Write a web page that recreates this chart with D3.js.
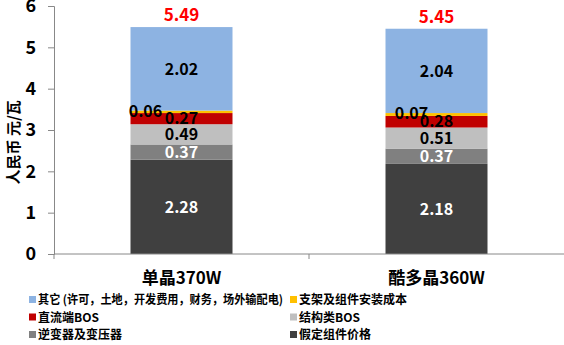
<!DOCTYPE html>
<html>
<head>
<meta charset="utf-8">
<script src="https://cdn.jsdelivr.net/npm/d3@7"></script>
<style>
  body { margin: 0; background: #fff; }
  text { font-family: "Noto Sans CJK SC", "Noto Sans", sans-serif; font-weight: bold; }
</style>
</head>
<body>
<div class="chart"></div>
<script>
var categories = ["单晶370W", "酷多晶360W"];
var seriesNames = ["假定组件价格", "逆变器及变压器", "结构类BOS", "直流端BOS", "支架及组件安装成本", "其它 (许可，土地，开发费用，财务，场外输配电)"];
var seriesColors = ["#404040", "#808080", "#bfbfbf", "#c00000", "#ffc000", "#8db3e2"];
var labelColors = ["#fff", "#fff", "#000", "#000", "#000", "#000"];
var mono = [2.28, 0.37, 0.49, 0.27, 0.06, 2.02];
var poly = [2.18, 0.37, 0.51, 0.28, 0.07, 2.04];
var totals = [5.49, 5.45];
var yTicks = [0, 1, 2, 3, 4, 5, 6];
var legendOrder = [5, 4, 3, 2, 1, 0];

var values = [mono, poly];
var margin = { top: 6, right: 0, bottom: 91, left: 54 };
var svgW = 564, svgH = 345;
var w = svgW - margin.left - margin.right;
var h = svgH - margin.top - margin.bottom;

// the thin gold segment's label is pushed left in the original
var thinShift = [-36, -25];

var svg = d3.select(".chart").append("svg")
    .attr("width", svgW).attr("height", svgH)
    .append("g")
    .attr("transform", "translate(" + margin.left + "," + margin.top + ")");

var xS = d3.scaleBand().domain(categories).range([0, w]).paddingInner(0.6).paddingOuter(0.3);
var yS = d3.scaleLinear().domain([0, 6]).range([h, 0]);

// stacked segments
var rows = categories.map(function(c, i) {
    var r = { cat: c };
    seriesNames.forEach(function(s, j) { r[s] = values[i][j]; });
    return r;
});
var stacked = d3.stack().keys(seriesNames)(rows);

var barsG = svg.append("g");
var labelsG = svg.append("g");

stacked.forEach(function(layer, j) {
    barsG.append("g").selectAll("rect")
        .data(layer)
        .enter().append("rect")
        .attr("x", function(d) { return xS(d.data.cat); })
        .attr("width", xS.bandwidth())
        .attr("y", function(d) { return yS(d[1]); })
        .attr("height", function(d) { return yS(d[0]) - yS(d[1]); })
        .attr("fill", seriesColors[j]);

    labelsG.append("g").selectAll("text")
        .data(layer)
        .enter().append("text")
        .attr("x", function(d, i) { return xS(d.data.cat) + xS.bandwidth() / 2 + (j === 4 ? thinShift[i] : 0); })
        .attr("y", function(d) { return yS((d[0] + d[1]) / 2) + (j === 4 ? -1 : 0); })
        .attr("dy", "0.36em")
        .attr("text-anchor", "middle")
        .style("font-size", "16px")
        .style("fill", labelColors[j])
        .text(function(d) { return (d[1] - d[0]).toFixed(2); });
});

// totals
svg.append("g").selectAll("text")
    .data(categories)
    .enter().append("text")
    .attr("x", function(c) { return xS(c) + xS.bandwidth() / 2; })
    .attr("y", function(c, i) { return yS(totals[i]) - 6; })
    .attr("text-anchor", "middle")
    .style("font-size", "17px")
    .style("fill", "#ff0000")
    .text(function(c, i) { return totals[i].toFixed(2); });

// axes
var lAxis = d3.axisLeft(yS).tickValues(yTicks).tickFormat(d3.format("d")).tickSize(6).tickPadding(12);
var gy = svg.append("g").call(lAxis);
gy.select(".domain").attr("stroke", "#888");
gy.selectAll(".tick line").attr("stroke", "#888");
gy.selectAll(".tick text").style("font-size", "18px").style("font-family", "'Noto Sans CJK SC'").style("font-weight", "bold").attr("fill", "#000");

var gx = svg.append("g").attr("transform", "translate(0," + h + ")");
gx.append("line").attr("x1", 0).attr("x2", w).attr("stroke", "#888");
gx.selectAll(".bnd")
    .data([0, w / 2])
    .enter().append("line")
    .attr("x1", function(d) { return d; }).attr("x2", function(d) { return d; })
    .attr("y1", 0).attr("y2", 5).attr("stroke", "#888");
gx.selectAll(".cl")
    .data(categories)
    .enter().append("text")
    .attr("x", function(c) { return xS(c) + xS.bandwidth() / 2; })
    .attr("y", 30)
    .attr("text-anchor", "middle")
    .style("font-size", "17px")
    .text(function(c) { return c; });

svg.append("text")
    .attr("transform", "rotate(-90)")
    .attr("x", -(yS(2.7)))
    .attr("y", -35)
    .attr("text-anchor", "middle")
    .style("font-size", "15px")
    .text("人民币 元/瓦");

// legend
var leg = d3.select("svg").append("g");
legendOrder.forEach(function(j, k) {
    var lx = (k % 2 === 0) ? 29 : 290;
    var ly = 300 + Math.floor(k / 2) * 17.5;
    leg.append("rect").attr("x", lx).attr("y", ly - 4).attr("width", 7).attr("height", 7).attr("fill", seriesColors[j]);
    var t = leg.append("text").attr("x", lx + 9).attr("y", ly).attr("dy", "0.35em")
        .style("font-size", "12px").text(seriesNames[j]);
    if (k === 0) t.attr("textLength", 245).attr("lengthAdjust", "spacingAndGlyphs");
});
</script>
</body>
</html>
